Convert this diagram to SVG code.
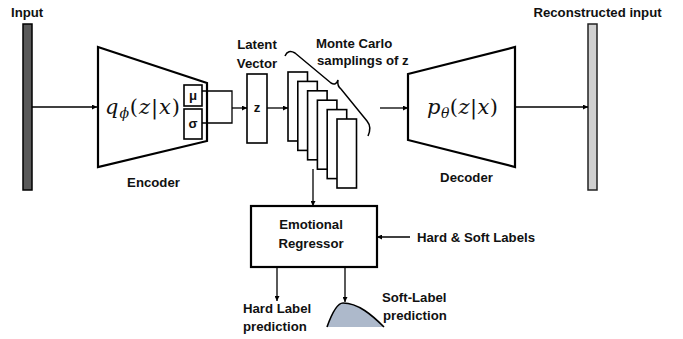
<svg xmlns="http://www.w3.org/2000/svg" width="683" height="339" viewBox="0 0 683 339">
<defs>
<marker id="ah" viewBox="0 0 10 10" refX="10" refY="5" markerWidth="5" markerHeight="5" orient="auto" markerUnits="userSpaceOnUse">
<path d="M0,0 L10,5 L0,10 Z" fill="#000"/>
</marker>
<style>
.lbl{font-family:"Liberation Sans",Arial,sans-serif;font-weight:bold;font-size:13.2px;fill:#111}
.c{text-anchor:middle}
.box{fill:#fff;stroke:#000;stroke-width:1.6}
.thick{fill:#fff;stroke:#000;stroke-width:2.2}
.math{font-family:"DejaVu Serif","Liberation Serif",serif;font-size:21px;fill:#111}
.it{font-style:italic}
.con{fill:none;stroke:#000;stroke-width:1.3}
.arr{fill:none;stroke:#000;stroke-width:1.3;marker-end:url(#ah)}
</style>
</defs>
<rect width="683" height="339" fill="#fff"/>

<g id="input">
<rect x="23" y="24" width="9" height="166" fill="#595959" stroke="#000" stroke-width="1.5"/>
<text class="lbl" x="11" y="17">Input</text>
</g>

<g id="encoder">
<polygon class="thick" points="98,47 207,83 207,141 98,167"/>
<text class="math" x="105" y="114" textLength="75" lengthAdjust="spacing"><tspan class="it">q</tspan><tspan class="it" dy="4" font-size="14">ϕ</tspan><tspan dy="-4">(</tspan><tspan class="it">z</tspan><tspan>|</tspan><tspan class="it">x</tspan><tspan>)</tspan></text>
<text class="lbl c" x="153.5" y="187">Encoder</text>
</g>

<g id="mu">
<rect class="box" x="184" y="85" width="18" height="21"/>
<text class="lbl c" x="193" y="100">μ</text>
</g>
<g id="sigma">
<rect class="box" x="184" y="109" width="18" height="30"/>
<text class="lbl c" x="193" y="128">σ</text>
</g>

<g id="latent">
<rect class="box" x="247" y="74" width="20" height="69"/>
<text class="lbl c" x="257" y="112">z</text>
<text class="lbl c" x="257" y="49">Latent</text>
<text class="lbl c" x="257" y="68">Vector</text>
</g>

<g id="samples">
<rect class="box" x="288" y="72" width="19.5" height="69"/>
<rect class="box" x="297.8" y="81.4" width="19.5" height="69"/>
<rect class="box" x="307.6" y="90.8" width="19.5" height="69"/>
<rect class="box" x="317.4" y="100.2" width="19.5" height="69"/>
<rect class="box" x="327.2" y="109.6" width="19.5" height="69"/>
<rect class="box" x="337" y="119" width="19.5" height="69"/>
<path d="M 285 56 Q 288 49 295 53 L 331 83 Q 336 86 338 80 Q 337 86 341 89 L 367 121 Q 372 127 368 136" fill="none" stroke="#000" stroke-width="1.5"/>
<text class="lbl" x="316" y="48">Monte Carlo</text>
<text class="lbl" x="317" y="65">samplings of z</text>
</g>

<g id="decoder">
<polygon class="thick" points="408,74 515,47 515,167 408,140"/>
<text class="math" x="427" y="114" textLength="71" lengthAdjust="spacing"><tspan class="it">p</tspan><tspan class="it" dy="4" font-size="14">θ</tspan><tspan dy="-4">(</tspan><tspan class="it">z</tspan><tspan>|</tspan><tspan class="it">x</tspan><tspan>)</tspan></text>
<text class="lbl c" x="466.5" y="182">Decoder</text>
</g>

<g id="reconstructed">
<rect x="588" y="24" width="9" height="166" fill="#d0d0d0" stroke="#222" stroke-width="1.5"/>
<text class="lbl c" x="597.5" y="17">Reconstructed input</text>
</g>

<g id="regressor">
<rect class="thick" x="251" y="206" width="126" height="61"/>
<text class="lbl c" x="311" y="229">Emotional</text>
<text class="lbl c" x="311" y="248">Regressor</text>
</g>

<g id="labels-in">
<text class="lbl" x="417" y="242">Hard &amp; Soft Labels</text>
</g>

<g id="hard">
<text class="lbl" x="243" y="313">Hard Label</text>
<text class="lbl" x="243" y="331">prediction</text>
</g>

<g id="soft">
<path d="M 327 327 C 332 313 337 303 343 303 C 358 303 372 315 384 327 Z" fill="#adb9cb"/>
<path d="M 327 327 C 332 313 337 303 343 303 C 358 303 372 315 384 327" fill="none" stroke="#000" stroke-width="1.6"/>
<text class="lbl" x="382" y="302">Soft-Label</text>
<text class="lbl" x="383" y="320">prediction</text>
</g>

<g id="connectors">
<line class="arr" x1="32" y1="107" x2="97" y2="107"/>
<polyline class="con" points="202,91 232,91 232,123 202,123"/>
<line class="arr" x1="232" y1="108" x2="247" y2="108"/>
<line class="arr" x1="267" y1="108" x2="288" y2="108"/>
<line class="arr" x1="380" y1="108" x2="408" y2="108"/>
<line class="arr" x1="515" y1="107" x2="588" y2="107"/>
<line class="arr" x1="313" y1="169" x2="313" y2="206"/>
<line class="arr" x1="410" y1="237" x2="377" y2="237"/>
<line class="arr" x1="277" y1="267" x2="277" y2="301"/>
<line class="arr" x1="345" y1="267" x2="345" y2="302"/>
</g>
</svg>
